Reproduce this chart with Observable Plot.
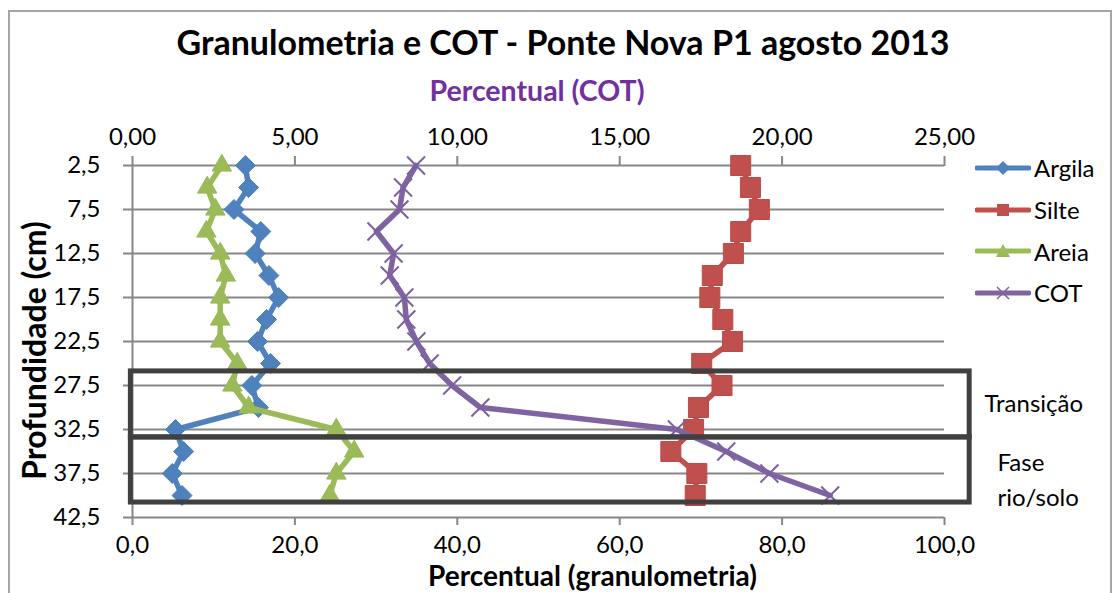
<!DOCTYPE html>
<html><head><meta charset="utf-8">
<script src="https://cdn.jsdelivr.net/npm/d3@7"></script>
<script src="https://cdn.jsdelivr.net/npm/@observablehq/plot@0.6"></script>
<style>
body{margin:0;background:#fff;font-family:Lato,sans-serif;color:#000;}
#wrap{position:relative;width:1115px;height:593px;overflow:hidden;background:#fff;}
#frame{position:absolute;left:8px;top:10px;width:1104px;height:600px;border:2px solid #a6a6a6;box-sizing:border-box;}
#title{position:absolute;left:0;width:1126px;top:21px;text-align:center;font-weight:bold;font-size:34px;line-height:42px;}
#sub{position:absolute;left:0;width:1074px;top:73px;text-align:center;font-weight:bold;font-size:28.5px;line-height:34px;color:#7030A0;}
#chart{position:absolute;left:0;top:110px;}
#legend{position:absolute;left:975px;top:147px;}
.row{display:flex;align-items:center;height:41.7px;font-size:24px;}
.row svg{margin-right:3px;}
</style></head>
<body>
<div id="wrap">
  <div id="frame"></div>
  <div id="title">Granulometria e COT - Ponte Nova P1 agosto 2013</div>
  <div id="sub">Percentual (COT)</div>
  <div id="chart"></div>
  <div id="legend"></div>
</div>
<script>
// ---- data ----
const depth  = [2.5, 5, 7.5, 10, 12.5, 15, 17.5, 20, 22.5, 25, 27.5, 30, 32.5, 35, 37.5, 40];
const argila = [13.9, 14.3, 12.5, 15.8, 15.1, 16.8, 18.0, 16.5, 15.4, 17.0, 14.7, 15.5, 5.3, 6.3, 4.9, 6.1];
const silte  = [74.9, 76.1, 77.2, 74.9, 74.0, 71.4, 71.1, 72.7, 73.9, 70.1, 72.6, 69.7, 69.1, 66.3, 69.5, 69.3];
const areia  = [11.0, 9.2, 10.2, 9.1, 10.8, 11.5, 10.8, 10.8, 10.8, 12.9, 12.3, 14.3, 25.1, 27.3, 25.1, 24.3];
const cot    = [8.73, 8.33, 8.22, 7.51, 8.04, 7.92, 8.37, 8.43, 8.74, 9.15, 9.84, 10.71, 16.76, 18.28, 19.61, 21.48];
const yTicks = [2.5, 7.5, 12.5, 17.5, 22.5, 27.5, 32.5, 37.5, 42.5];
const xTicksGran = [0, 20, 40, 60, 80, 100];
const xTicksCot = [0, 5, 10, 15, 20, 25];
const zoneLabels = ["Transição", "Fase\nrio/solo"];
const zoneTop    = [25.9, 33.4];
const zoneBottom = [33.4, 40.8];
const seriesNames = ["Argila", "Silte", "Areia", "COT"];
const colors  = {Argila: "#4F81BD", Silte: "#C0504D", Areia: "#9BBB59", COT: "#8064A2"};
const borders = {Argila: "#4A7EBB", Silte: "#BE4B48", Areia: "#98B954", COT: "#7D60A0"};

// ---- tables ----
const rows = depth.map((d, i) => ({depth: d, Argila: argila[i], Silte: silte[i], Areia: areia[i], COT: cot[i]}));
const zones = zoneLabels.map((l, i) => ({label: l, top: zoneTop[i], bottom: zoneBottom[i]}));
const cotFactor = 100 / 25; // secondary axis 0–25 mapped onto 0–100
const comma = (v, n) => v.toFixed(n).replace(".", ",");
const grid = "#878787";

const plot = Plot.plot({
  width: 1115, height: 483,
  marginTop: 55, marginBottom: 76, marginLeft: 132, marginRight: 171,
  style: {fontFamily: "Lato, sans-serif", fontSize: "24px", overflow: "visible", background: "transparent", color: "#000"},
  x: {domain: [0, 100], label: null},
  y: {domain: [2.5, 42.5], reverse: true, label: null},
  marks: [
    Plot.ruleY(yTicks, {stroke: grid, strokeWidth: 2}),
    Plot.ruleX([0], {stroke: grid, strokeWidth: 2}),
    Plot.axisY({ticks: yTicks, tickFormat: d => comma(d, 1), tickSize: 9, tickPadding: 23, stroke: grid, strokeWidth: 2, fill: "#000", label: null, fontSize: 24}),
    Plot.axisX({anchor: "top", ticks: xTicksCot.map(v => v * cotFactor), tickFormat: d => comma(d / cotFactor, 2), tickSize: 10, tickPadding: 11, stroke: grid, strokeWidth: 2, fill: "#000", label: null, fontSize: 24}),
    Plot.axisX({anchor: "bottom", ticks: xTicksGran, tickFormat: d => comma(d, 1), tickSize: 8, tickPadding: 10, stroke: grid, strokeWidth: 2, fill: "#000", label: null, fontSize: 24}),
    // series
    Plot.line(rows, {x: "Argila", y: "depth", stroke: colors.Argila, strokeWidth: 5.5}),
    Plot.dot(rows, {x: "Argila", y: "depth", symbol: "diamond2", r: 9, fill: colors.Argila, stroke: borders.Argila, strokeWidth: 1}),
    Plot.line(rows, {x: "Silte", y: "depth", stroke: colors.Silte, strokeWidth: 5.5}),
    Plot.dot(rows, {x: "Silte", y: "depth", symbol: "square", r: 11.3, fill: colors.Silte, stroke: borders.Silte, strokeWidth: 1}),
    Plot.line(rows, {x: "Areia", y: "depth", stroke: colors.Areia, strokeWidth: 5.5}),
    Plot.dot(rows, {x: "Areia", y: "depth", symbol: "triangle", r: 7.2, fill: colors.Areia, stroke: borders.Areia, strokeWidth: 1}),
    Plot.line(rows, {x: d => d.COT * cotFactor, y: "depth", stroke: colors.COT, strokeWidth: 5.5}),
    Plot.dot(rows, {x: d => d.COT * cotFactor, y: "depth", symbol: "times", r: 8.2, fill: "none", stroke: borders.COT, strokeWidth: 2}),
    // zone boxes
    Plot.rect(zones, {x1: () => -0.2, x2: () => 103.1, y1: "top", y2: "bottom", fill: "none", stroke: "#404040", strokeWidth: 5}),
    Plot.text(zones.slice(0, 1), {y: d => (d.top + d.bottom) / 2, text: "label", frameAnchor: "right", textAnchor: "start", dx: 40, fontSize: 24}),
    Plot.text(zones.slice(1), {y: d => (d.top + d.bottom) / 2, text: "label", frameAnchor: "right", textAnchor: "start", dx: 53, dy: 7, fontSize: 24, lineHeight: 1.45}),
    // axis titles
    Plot.text(["Profundidade (cm)"], {text: d => d, frameAnchor: "left", textAnchor: "middle", lineAnchor: "middle", rotate: -90, dx: -97, dy: 9, fontSize: 32, fontWeight: "bold"}),
    Plot.text(["Percentual (granulometria)"], {text: d => d, frameAnchor: "bottom", textAnchor: "middle", lineAnchor: "middle", dx: 54, dy: 59.5, fontSize: 28, fontWeight: "bold"})
  ]
});
document.getElementById("chart").appendChild(plot);

// ---- legend ----
const legend = document.getElementById("legend");
const markerSvg = {
  Argila: c => `<path d="M28,3 L35,10 L28,17 L21,10 Z" fill="${c}"/>`,
  Silte: c => `<rect x="22" y="4" width="12" height="12" fill="${c}"/>`,
  Areia: c => `<path d="M28,3 L35,16 L21,16 Z" fill="${c}"/>`,
  COT: c => `<path d="M22,4 L34,16 M22,16 L34,4" stroke="${c}" stroke-width="1.5" fill="none"/>`
};
seriesNames.forEach(name => {
  const row = document.createElement("div");
  row.className = "row";
  row.innerHTML = `<svg width="56" height="20" viewBox="0 0 56 20"><line x1="2" y1="10" x2="54" y2="10" stroke="${colors[name]}" stroke-width="5" stroke-linecap="round"/>${markerSvg[name](colors[name])}</svg><span>${name}</span>`;
  legend.appendChild(row);
});
</script>
</body></html>
